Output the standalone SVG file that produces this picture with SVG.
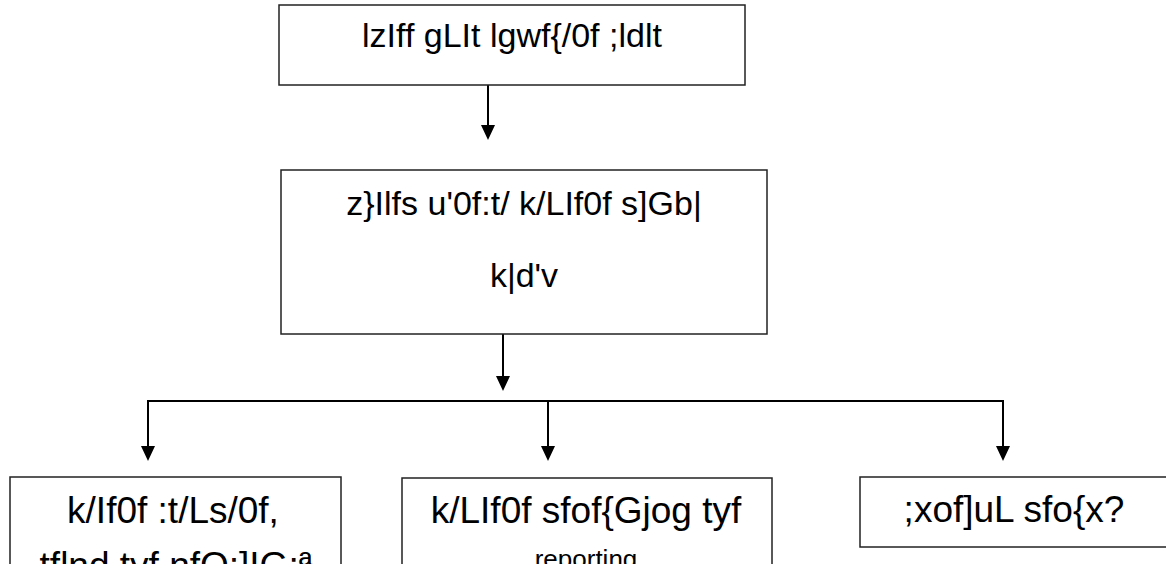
<svg xmlns="http://www.w3.org/2000/svg" width="1166" height="564" viewBox="0 0 1166 564">
<style>
.box{fill:#fff;stroke:#222;stroke-width:1.5}
.t{font-family:"Liberation Sans",Arial,sans-serif;font-size:34px;fill:#000;text-anchor:middle}
.b{font-size:37px}
.c{fill:none;stroke:#000;stroke-width:2}
.ah{fill:#000}
</style>
<rect width="1166" height="564" fill="#fff"/>
<g id="connectors">
<line class="c" x1="488" y1="85" x2="488" y2="128"/>
<line class="c" x1="503" y1="334" x2="503" y2="379"/>
<polyline class="c" points="148,449 148,401 1003,401 1003,449"/>
<line class="c" x1="548" y1="401" x2="548" y2="449"/>
<path class="ah" d="M481,125 L495,125 L488,140 Z"/>
<path class="ah" d="M496,376 L510,376 L503,391 Z"/>
<path class="ah" d="M141,446 L155,446 L148,461 Z"/>
<path class="ah" d="M541,446 L555,446 L548,461 Z"/>
<path class="ah" d="M996,446 L1010,446 L1003,461 Z"/>
</g>
<g id="node-top">
<rect class="box" x="279" y="5" width="466" height="80"/>
<text class="t" x="512" y="47">lzIff gLIt lgwf{/0f ;ldlt</text>
</g>
<g id="node-center">
<rect class="box" x="281" y="170" width="486" height="164"/>
<text class="t" x="524" y="215">z}Ilfs u'0f:t/ k/LIf0f s]Gb|</text>
<text class="t" x="524" y="287">k|d'v</text>
</g>
<g id="node-left">
<rect class="box" x="10" y="477" width="331" height="100"/>
<text class="t b" x="173" y="523">k/If0f :t/Ls/0f,</text>
<text class="t b" x="176" y="578">tflnd tyf nfO;]IG;ª</text>
</g>
<g id="node-middle">
<rect class="box" x="402" y="478" width="370" height="100"/>
<text class="t b" x="586" y="523">k/LIf0f sfof{Gjog tyf</text>
<text class="t" x="586" y="568" style="font-size:26px">reporting</text>
</g>
<g id="node-right">
<rect class="box" x="860" y="477" width="310" height="70"/>
<text class="t b" x="1014" y="522">;xof]uL sfo{x?</text>
</g>
</svg>
